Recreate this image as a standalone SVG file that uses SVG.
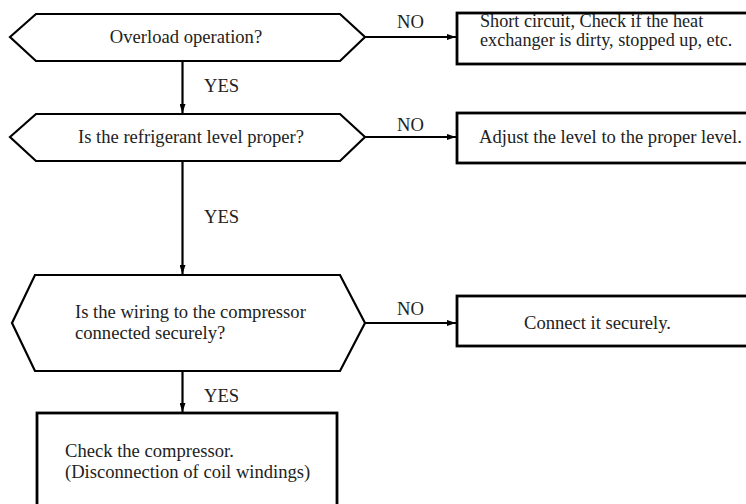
<svg xmlns="http://www.w3.org/2000/svg" width="746" height="504" viewBox="0 0 746 504">
<style>
.hex{fill:#fff;stroke:#000;stroke-width:2.2;stroke-linejoin:miter}
.box{fill:#fff;stroke:#000;stroke-width:2.8}
.t{font-family:"Liberation Serif","Times New Roman",serif;font-size:18.6px;fill:#222}
.s{font-size:18.2px}
.c{text-anchor:middle}
.ln{stroke:#000;stroke-width:2.2;fill:none}
</style>
<defs>
<marker id="ah" markerWidth="9" markerHeight="6" refX="9" refY="3" orient="auto" markerUnits="userSpaceOnUse">
<path d="M0,0 L9,3 L0,6 Z" fill="#000"/>
</marker>
</defs>
<rect width="746" height="504" fill="#fff"/>
<g id="connectors">
<line class="ln" x1="182.5" y1="61" x2="182.5" y2="113" marker-end="url(#ah)"/>
<line class="ln" x1="182.5" y1="161" x2="182.5" y2="274" marker-end="url(#ah)"/>
<line class="ln" x1="182.5" y1="371" x2="182.5" y2="412" marker-end="url(#ah)"/>
<line class="ln" x1="365" y1="37" x2="456" y2="37" marker-end="url(#ah)"/>
<line class="ln" x1="365" y1="137" x2="456" y2="137" marker-end="url(#ah)"/>
<line class="ln" x1="365" y1="323" x2="456" y2="323" marker-end="url(#ah)"/>
<text class="t" x="204" y="92">YES</text>
<text class="t" x="204" y="223">YES</text>
<text class="t" x="204" y="402">YES</text>
<text class="t" x="397" y="28">NO</text>
<text class="t" x="397" y="131">NO</text>
<text class="t" x="397" y="315">NO</text>
</g>
<g id="q1">
<polygon class="hex" points="10,37 36,14 340,14 365,37 340,61 36,61"/>
<text class="t c" x="186" y="43">Overload operation?</text>
</g>
<g id="q2">
<polygon class="hex" points="10,137 36,114 340,114 365,137 340,161 36,161"/>
<text class="t c" x="191" y="143">Is the refrigerant level proper?</text>
</g>
<g id="q3">
<polygon class="hex" points="12,323 35,275 340,275 365,323 340,371 35,371"/>
<text class="t" x="75" y="318">Is the wiring to the compressor</text>
<text class="t" x="75" y="339">connected securely?</text>
</g>
<g id="a1">
<rect class="box" x="457" y="13" width="300" height="51"/>
<text class="t s" x="480" y="26.5">Short circuit, Check if the heat</text>
<text class="t s" x="480" y="45.5">exchanger is dirty, stopped up, etc.</text>
</g>
<g id="a2">
<rect class="box" x="457" y="113" width="300" height="50"/>
<text class="t" x="479" y="143">Adjust the level to the proper level.</text>
</g>
<g id="a3">
<rect class="box" x="457" y="296" width="300" height="50"/>
<text class="t" x="524" y="329">Connect it securely.</text>
</g>
<g id="a4">
<rect class="box" x="37" y="413" width="300" height="100"/>
<text class="t" x="65" y="457">Check the compressor.</text>
<text class="t" x="65" y="478">(Disconnection of coil windings)</text>
</g>
</svg>
